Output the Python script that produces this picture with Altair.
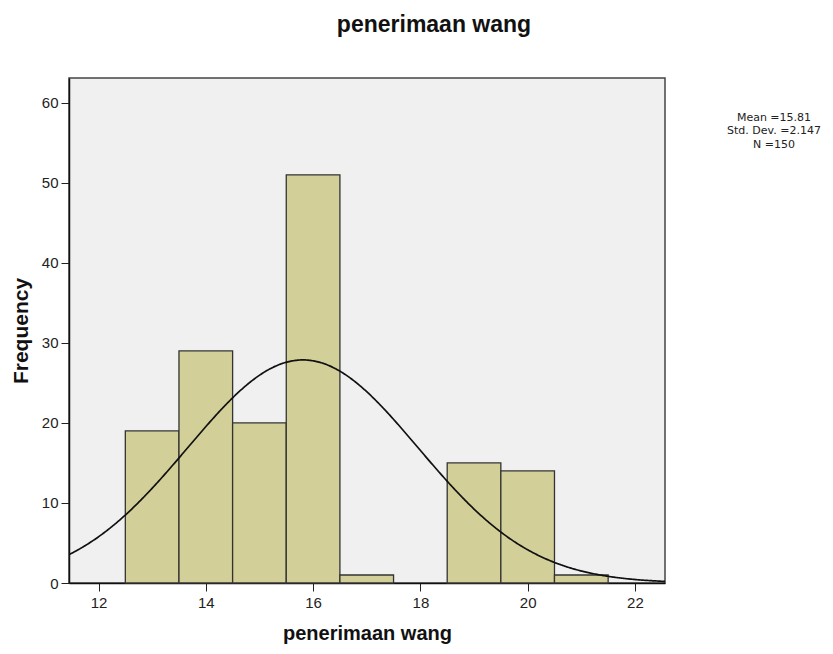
import altair as alt
import pandas as pd

# ---- data ----
bin_start = [12.5, 13.5, 14.5, 15.5, 16.5, 18.5, 19.5, 20.5]
bin_end = [13.5, 14.5, 15.5, 16.5, 17.5, 19.5, 20.5, 21.5]
counts = [19, 29, 20, 51, 1, 15, 14, 1]

mean_val = 15.81
sd_val = 2.147
n_val = 150
stats_lines = ["Mean =15.81", "Std. Dev. =2.147", "N =150"]

x_ticks = [12, 14, 16, 18, 20, 22]
y_ticks = [0, 10, 20, 30, 40, 50, 60]
x_domain = [11.45, 22.56]
y_domain = [0, 63.1]

FONT = "Liberation Sans"

bars_df = pd.DataFrame({"start": bin_start, "end": bin_end, "count": counts})

x_scale = alt.Scale(domain=x_domain, nice=False, zero=False)
y_scale = alt.Scale(domain=y_domain, nice=False)

x_axis = alt.Axis(
    values=x_ticks, title="penerimaan wang", grid=False,
    labelFont=FONT, labelFontSize=15, labelColor="#222",
    titleFont=FONT, titleFontSize=20, titleFontWeight="bold", titleColor="#111",
    titlePadding=13, tickSize=8, tickColor="#222", domainColor="#111",
    domainWidth=1.5, labelPadding=4,
)
y_axis = alt.Axis(
    values=y_ticks, title="Frequency", grid=False,
    labelFont=FONT, labelFontSize=15, labelColor="#222",
    titleFont=FONT, titleFontSize=21, titleFontWeight="bold", titleColor="#111",
    titlePadding=10, tickSize=8, tickColor="#222", domainColor="#111",
    domainWidth=1.5, labelPadding=3,
)

bars = alt.Chart(bars_df).mark_bar(
    fill="#d3cf98", stroke="#333333", strokeWidth=1.3, opacity=1
).encode(
    x=alt.X("start:Q", scale=x_scale, axis=x_axis),
    x2="end:Q",
    y=alt.Y("count:Q", scale=y_scale, axis=y_axis),
    y2=alt.datum(0),
)

curve = alt.Chart(alt.sequence(x_domain[0], x_domain[1] + 0.02, 0.02, as_="x")).transform_calculate(
    y=f"{n_val} * densityNormal(datum.x, {mean_val}, {sd_val})"
).mark_line(color="#111", strokeWidth=1.7, clip=True).encode(
    x=alt.X("x:Q", scale=x_scale),
    y=alt.Y("y:Q", scale=y_scale),
)

stats = alt.Chart(pd.DataFrame({"k": [0]})).mark_text(
    font="DejaVu Sans", fontSize=11, color="#222", align="center", baseline="alphabetic",
    lineHeight=13.5,
).encode(
    x=alt.value(705),
    y=alt.value(42.5),
    text=alt.value(stats_lines),
)

chart = alt.layer(bars, curve, stats).properties(
    width=596,
    height=505,
    title=alt.TitleParams(
        "penerimaan wang", font=FONT, fontSize=23, fontWeight="bold", color="#111",
        anchor="middle", dx=67, offset=41,
    ),
    padding={"left": 61, "top": 70, "right": 160, "bottom": 63},
    autosize=alt.AutoSizeParams(type="none"),
).configure_view(
    fill="#f0f0f0", stroke="#444", strokeWidth=1.5
)

chart.save("out.html", embed_options={"renderer": "svg", "actions": False})
